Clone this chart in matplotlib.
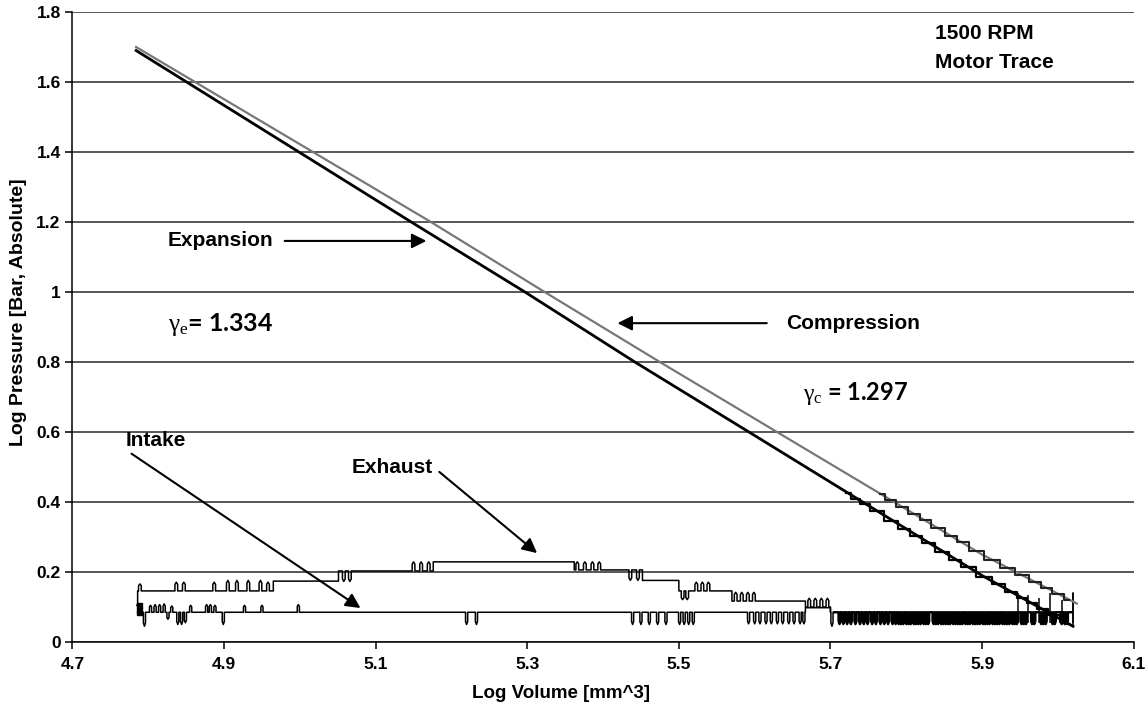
import numpy as np
import matplotlib.pyplot as plt

plt.rcParams['font.family'] = ['Liberation Sans', 'DejaVu Sans']
plt.rcParams['mathtext.fontset'] = 'custom'
plt.rcParams['mathtext.it'] = 'Liberation Serif'
plt.rcParams['mathtext.rm'] = 'Liberation Serif'

# log volume / log pressure
x_ticks = [4.7, 4.9, 5.1, 5.3, 5.5, 5.7, 5.9, 6.1]
y_ticks = [0, 0.2, 0.4, 0.6, 0.8, 1.0, 1.2, 1.4, 1.6, 1.8]
y_tick_labels = ['0', '0.2', '0.4', '0.6', '0.8', '1', '1.2', '1.4', '1.6', '1.8']

# expansion (dark) and compression (grey) strokes
exp_x = [4.784, 5.147, 5.297, 5.442, 5.600, 5.900, 6.020]
exp_y = [1.690, 1.200, 1.000, 0.800, 0.590, 0.190, 0.045]
comp_x = [4.784, 5.173, 5.323, 5.475, 5.900, 6.025]
comp_y = [1.700, 1.200, 1.000, 0.800, 0.250, 0.110]

# quantisation stairs along the bottom of both strokes
exp_stair_x = [5.720, 5.733, 5.745, 5.760, 5.780, 5.797, 5.813, 5.828, 5.848, 5.864,
               5.880, 5.904, 5.921, 5.940, 5.953, 5.966, 5.980, 5.995, 6.010]
exp_stair_y = [0.427, 0.410, 0.394, 0.374, 0.347, 0.324, 0.303, 0.283, 0.256, 0.235,
               0.213, 0.185, 0.165, 0.142, 0.127, 0.111, 0.094, 0.076, 0.057]
comp_stair_x = [5.765, 5.780, 5.794, 5.811, 5.824, 5.842, 5.860, 5.873, 5.893, 5.913,
                5.935, 5.953, 5.970, 5.985, 6.000, 6.015]
comp_stair_y = [0.424, 0.405, 0.387, 0.365, 0.348, 0.325, 0.302, 0.285, 0.259, 0.235,
                0.211, 0.191, 0.172, 0.155, 0.138, 0.121]
end_bar_x = [5.948, 5.960, 5.975, 5.990, 6.005, 6.020]
end_bar_top = [0.140, 0.135, 0.125, 0.140, 0.120, 0.140]

# exhaust: level changes and small ripples (dy > 0 up, < 0 down)
exh_level_x = [4.785, 4.786, 4.965, 5.051, 5.176, 5.362, 5.452, 5.500, 5.570, 5.667, 5.700]
exh_level_y = [0.105, 0.146, 0.174, 0.203, 0.229, 0.206, 0.176, 0.146, 0.117, 0.100, 0.088]
exh_bump_x = [4.789, 4.837, 4.847, 4.887, 4.905, 4.917, 4.932, 4.948, 4.958,
              5.058, 5.066, 5.150, 5.160, 5.170,
              5.366, 5.376, 5.386, 5.395, 5.436, 5.446,
              5.505, 5.511, 5.523, 5.531, 5.539,
              5.575, 5.583, 5.591, 5.599, 5.672, 5.680, 5.688, 5.696]
exh_bump_dy = [0.020, 0.025, 0.025, 0.025, 0.030, 0.030, 0.030, 0.030, 0.025,
               -0.030, -0.030, 0.026, 0.026, 0.026,
               0.023, 0.023, 0.023, 0.023, -0.030, -0.030,
               -0.025, -0.025, 0.025, 0.025, 0.025,
               0.025, 0.025, 0.025, 0.025, 0.025, 0.025, 0.025, 0.025]

# intake
int_level_x = [4.786, 5.667, 5.700, 6.018]
int_level_y = [0.085, 0.098, 0.085, 0.085]
int_block = [4.785, 4.792, 0.077, 0.112]
int_bump_x = [4.795, 4.803, 4.809, 4.815, 4.821, 4.826, 4.831, 4.839, 4.844, 4.849, 4.856,
              4.877, 4.882, 4.888, 4.899, 4.927, 4.950, 4.998, 5.220, 5.233,
              5.439, 5.450, 5.461, 5.472, 5.483, 5.501, 5.507, 5.513, 5.519,
              5.592, 5.600, 5.607, 5.615, 5.622, 5.630, 5.637, 5.645, 5.652, 5.660, 5.665,
              5.702]
int_bump_dy = [-0.040, 0.020, 0.022, 0.022, 0.024, -0.020, 0.018, -0.035, -0.035, -0.030, 0.020,
               0.022, 0.022, 0.020, -0.035, 0.020, 0.020, 0.022, -0.035, -0.035,
               -0.035, -0.035, -0.035, -0.035, -0.035, -0.035, -0.035, -0.035, -0.035,
               -0.033, -0.033, -0.033, -0.033, -0.033, -0.033, -0.033, -0.033, -0.033, -0.033, -0.033,
               -0.040]
# noisy band on the right end of the intake stroke
band_x = [5.712, 5.717, 5.722, 5.727, 5.733, 5.739, 5.744, 5.749, 5.755, 5.760, 5.766, 5.771,
          5.776, 5.782, 5.786, 5.790, 5.793, 5.796, 5.800, 5.803, 5.806, 5.810, 5.813, 5.816,
          5.819, 5.823, 5.826, 5.829, 5.836, 5.839, 5.842, 5.846, 5.849, 5.852, 5.855, 5.858,
          5.862, 5.865, 5.868, 5.871, 5.874, 5.878, 5.881, 5.884, 5.888, 5.891, 5.894, 5.897,
          5.901, 5.904, 5.907, 5.910, 5.914, 5.917, 5.920, 5.923, 5.927, 5.930, 5.933, 5.936,
          5.940, 5.943, 5.946, 5.952, 5.955, 5.958, 5.966, 5.969, 5.978, 5.981, 5.984, 5.993,
          5.996, 6.005, 6.009, 6.012]
band_dy = [-0.034] * len(band_x)

fig = plt.figure(figsize=(11.48, 7.08), dpi=100)
ax = fig.add_axes([0.0631, 0.0932, 0.9244, 0.8898])


def trace(level_x, level_y, bump_x, bump_dy, w=0.0018):
    pieces = []
    for i in range(1, len(level_x)):
        pieces.append((level_x[i], [level_x[i], level_x[i]], [level_y[i - 1], level_y[i]]))
    for bx, dy in zip(bump_x, bump_dy):
        k = max(np.searchsorted(level_x, bx, side='right') - 1, 0)
        base = level_y[k]
        pieces.append((bx - w, [bx - w, bx - w, bx, bx + w, bx + w],
                       [base, base + 0.75 * dy, base + dy, base + 0.75 * dy, base]))
    pieces.sort(key=lambda p: p[0])
    xs, ys = [level_x[0]], [level_y[0]]
    for _, px, py in pieces:
        xs += px
        ys += py
    xs.append(level_x[-1])
    ys.append(level_y[-1])
    return xs, ys


lw_trace = 1.1
xs, ys = trace(exh_level_x, exh_level_y, exh_bump_x, exh_bump_dy)
ax.plot(xs, ys, color='black', lw=lw_trace, zorder=3)
xs, ys = trace(int_level_x, int_level_y, int_bump_x, int_bump_dy, w=0.0014)
ax.plot(xs, ys, color='black', lw=lw_trace, zorder=3)
xs, ys = trace([5.705, 6.018], [0.085, 0.085], band_x, band_dy, w=0.0013)
ax.plot(xs, ys, color='black', lw=1.7, zorder=3)
ax.fill([int_block[0], int_block[1], int_block[1], int_block[0]],
        [int_block[2], int_block[2], int_block[3], int_block[3]], color='black', zorder=3)
ax.vlines(end_bar_x, 0.055, end_bar_top, color='black', lw=lw_trace, zorder=3)
ax.plot([6.02, 6.02], [0.045, 0.14], color='black', lw=lw_trace, zorder=3)

ax.plot(comp_x, comp_y, color='#777777', lw=1.6, zorder=4)
ax.plot(exp_x, exp_y, color='black', lw=2.0, zorder=4)
ax.step(exp_stair_x, exp_stair_y, where='mid', color='black', lw=1.6, zorder=4)
ax.step(comp_stair_x, comp_stair_y, where='mid', color='#222222', lw=1.5, zorder=4)

ax.set_xlim(4.7, 6.1)
ax.set_ylim(0, 1.8)
ax.set_xticks(x_ticks)
ax.set_xticklabels(['%.1f' % v for v in x_ticks])
ax.set_yticks(y_ticks)
ax.set_yticklabels(y_tick_labels)
ax.yaxis.grid(True, color='#2a2a2a', lw=1.1)
ax.set_axisbelow(True)
for s in ['top', 'right']:
    ax.spines[s].set_visible(False)
for s in ['left', 'bottom']:
    ax.spines[s].set_linewidth(1.1)
ax.tick_params(axis='both', direction='out', length=5, width=1.1, labelsize=12.5)
for lab in ax.get_xticklabels() + ax.get_yticklabels():
    lab.set_fontweight('bold')
ax.tick_params(axis='x', pad=6)
ax.set_xlabel('Log Volume [mm^3]', fontsize=13.5, fontweight='bold')
ax.xaxis.set_label_coords(0.46, -0.068)
ax.set_ylabel('Log Pressure [Bar, Absolute]', fontsize=14, fontweight='bold')
ax.yaxis.set_label_coords(-0.043, 0.524)

txt = dict(fontsize=15, fontweight='bold', va='center')
arrow = dict(arrowstyle='-|>', color='black', lw=1.5, mutation_scale=22, shrinkA=0, shrinkB=0)
ax.text(5.838, 1.74, '1500 RPM', **txt)
ax.text(5.838, 1.655, 'Motor Trace', **txt)
ax.annotate('', xy=(5.167, 1.146), xytext=(4.980, 1.146), arrowprops=arrow)
ax.text(4.825, 1.146, 'Expansion', **txt)
ax.annotate('', xy=(5.419, 0.911), xytext=(5.616, 0.911), arrowprops=arrow)
ax.text(5.641, 0.911, 'Compression', **txt)
ax.annotate('', xy=(5.080, 0.097), xytext=(4.778, 0.538), arrowprops=arrow)
ax.text(4.770, 0.577, 'Intake', **txt)
ax.annotate('', xy=(5.313, 0.254), xytext=(5.184, 0.486), arrowprops=arrow)
ax.text(5.068, 0.500, 'Exhaust', **txt)

gam = dict(fontweight='bold', va='center', family=['Lato', 'DejaVu Sans'])
ax.text(4.826, 0.906, r'$\gamma_{\mathrm{e}}$= 1.334', fontsize=18, **gam)
ax.text(5.664, 0.711, r'$\gamma_{\mathrm{c}}$ = 1.297', fontsize=17, **gam)

fig.savefig('out.png', dpi=100)
